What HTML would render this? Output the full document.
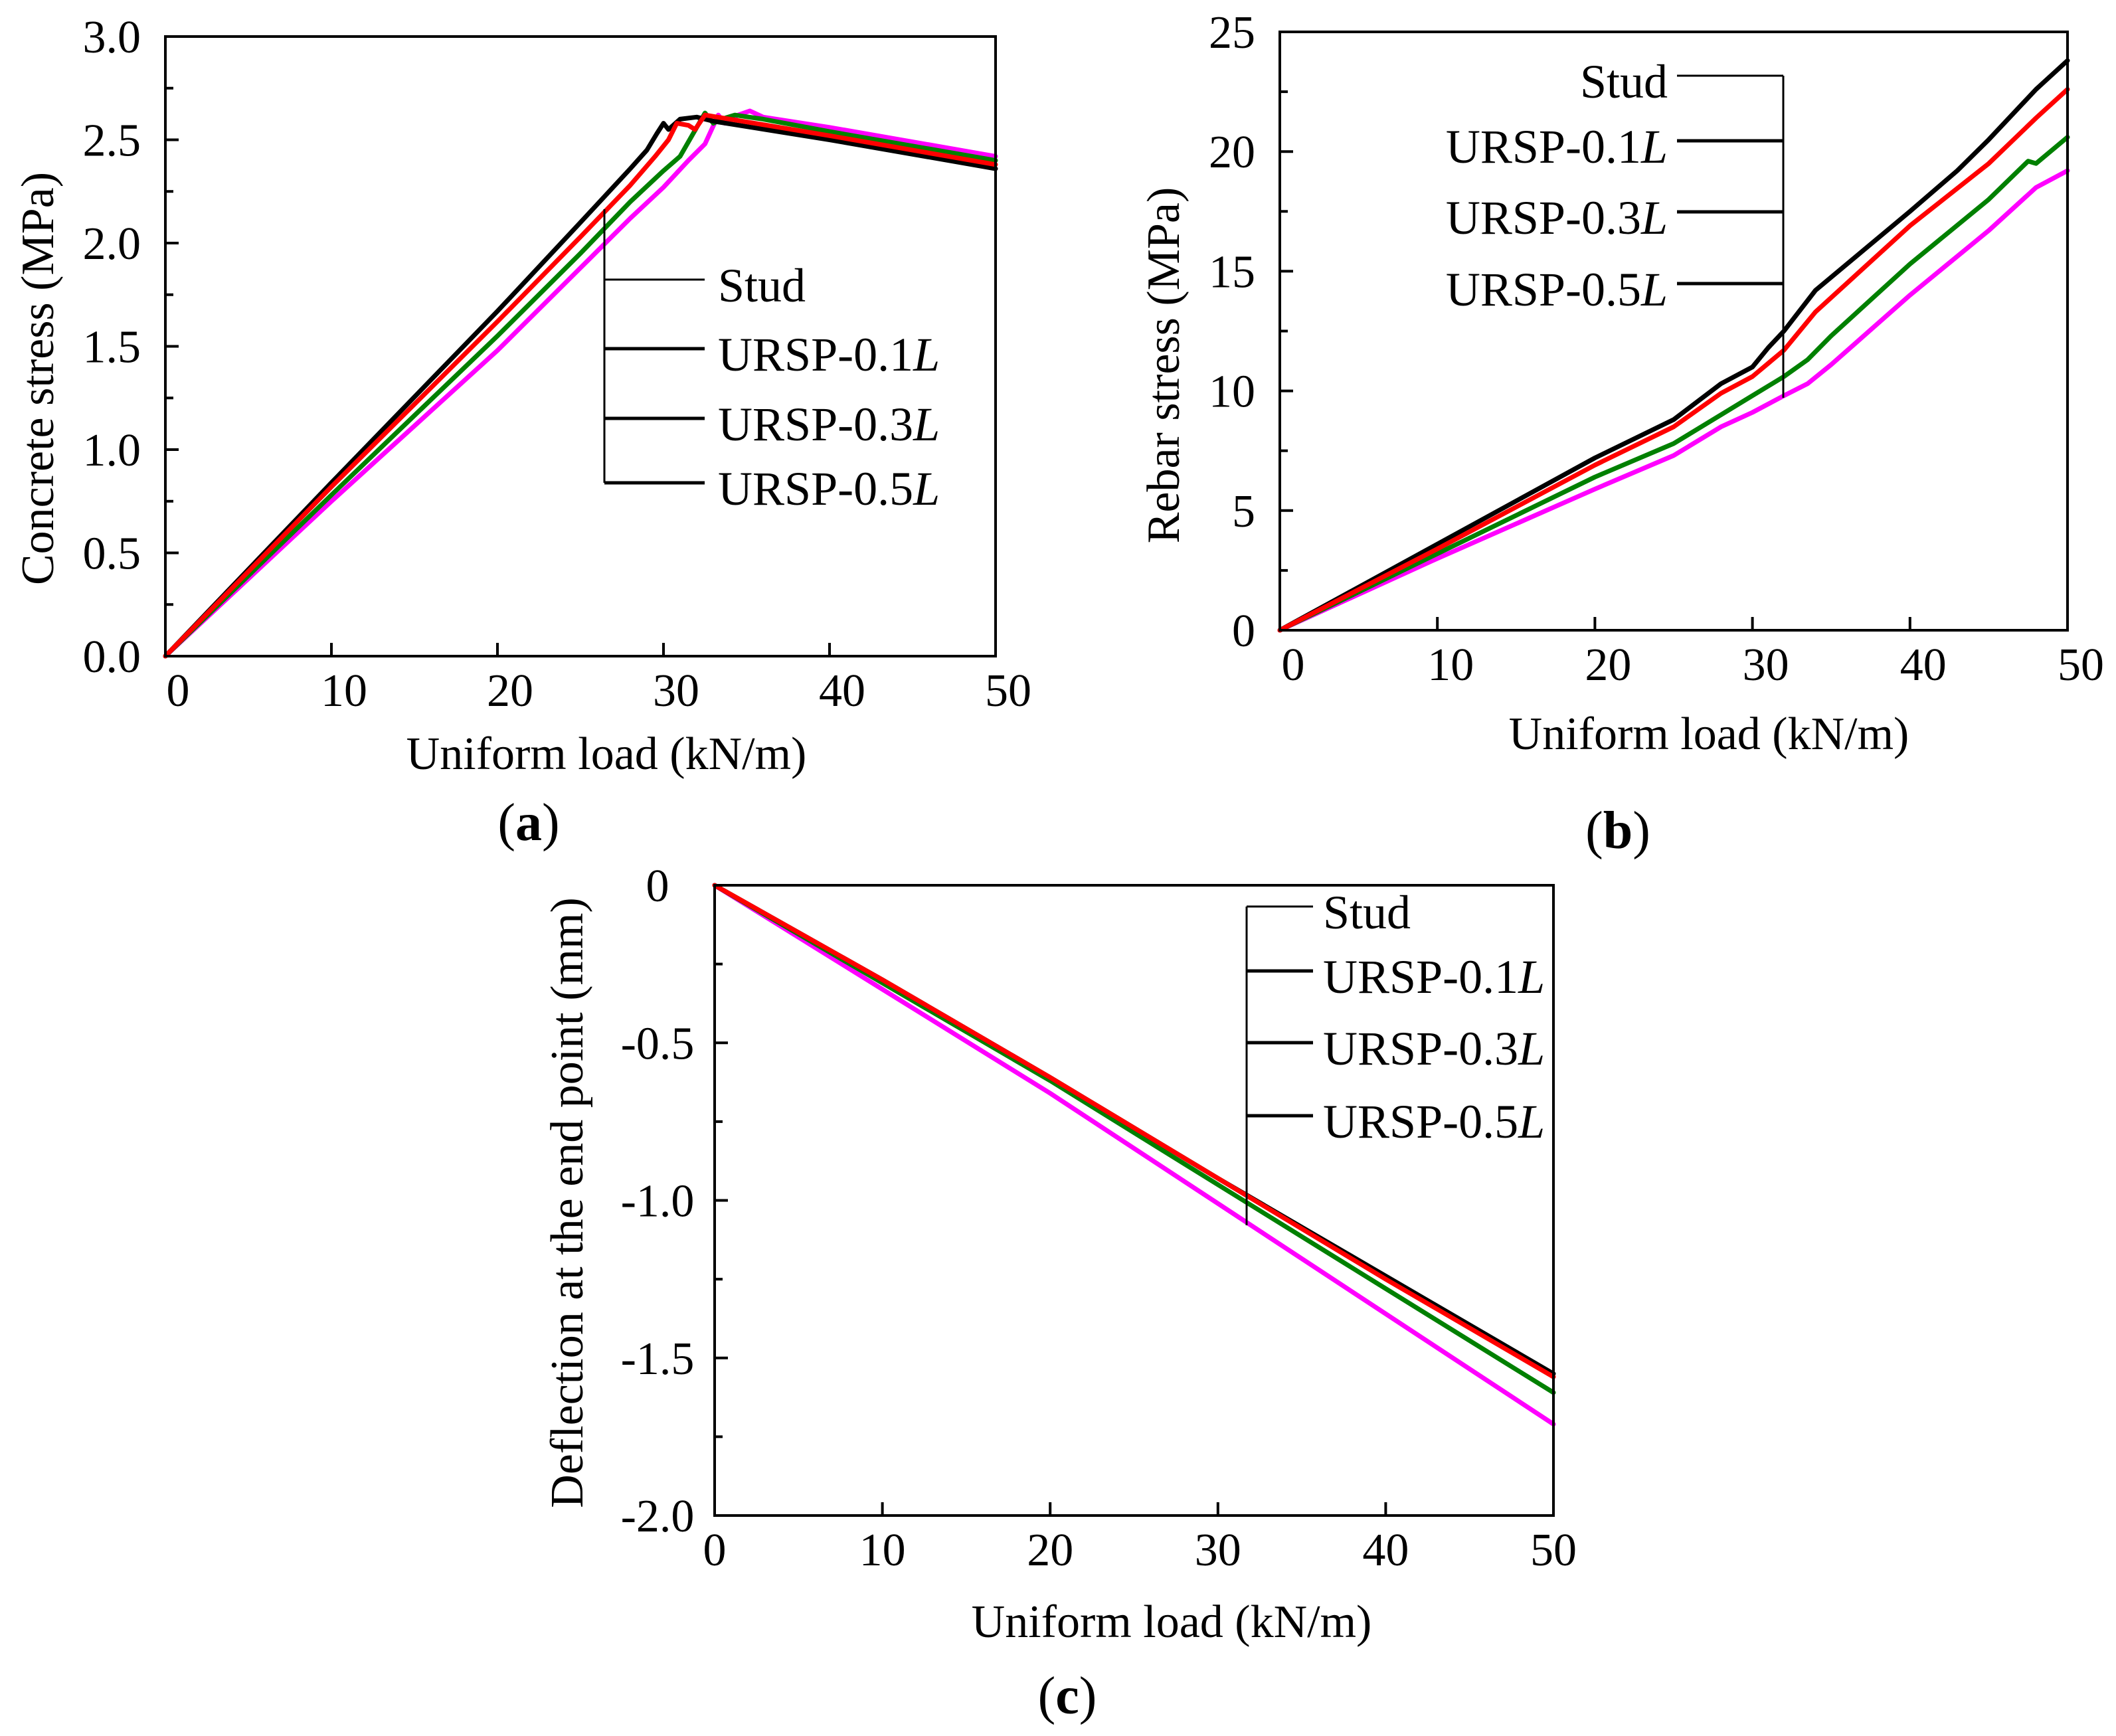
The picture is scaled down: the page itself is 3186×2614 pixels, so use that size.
<!DOCTYPE html>
<html><head><meta charset="utf-8">
<style>
html,body{margin:0;padding:0;background:#fff;}
svg{display:block;font-family:"Liberation Serif","Times New Roman",serif;}
</style></head>
<body>
<svg id="fig" width="3186" height="2614" viewBox="0 0 3186 2614" xmlns="http://www.w3.org/2000/svg"></svg>
<script>
// ---- Panel (a) data: concrete stress ----
const aX_stud=[0,10,20,25,28,29,29.6,30,30.3,31,32,33,40,50];
const aY_stud=[0,0.84,1.67,2.1,2.36,2.45,2.53,2.58,2.55,2.6,2.61,2.59,2.5,2.36];
const aX_r1=[0,10,20,25,28,29.5,30.3,30.8,31.5,31.9,32.5,34,40,50];
const aY_r1=[0,0.82,1.62,2.03,2.28,2.42,2.5,2.58,2.57,2.55,2.62,2.6,2.52,2.38];
const aX_r3=[0,10,20,25,28,30,31,32.5,33,33.5,34.3,36,40,50];
const aY_r3=[0,0.78,1.55,1.95,2.2,2.35,2.42,2.63,2.58,2.6,2.62,2.6,2.54,2.4];
const aX_r5=[0,10,20,25,28,30,31.5,32.5,33.3,33.7,34.5,35.2,36,40,50];
const aY_r5=[0,0.75,1.48,1.88,2.12,2.27,2.4,2.48,2.62,2.58,2.62,2.64,2.61,2.56,2.42];
// ---- Panel (b) data: rebar stress ----
const bX_stud=[0,10,20,25,28,30,31,32,34,40,43,45,48,50];
const bY_stud=[0,3.6,7.2,8.8,10.3,11.0,11.8,12.5,14.2,17.5,19.2,20.5,22.6,23.8];
const bX_r1=[0,10,20,25,28,30,32,34,40,45,48,50];
const bY_r1=[0,3.4,6.9,8.5,9.9,10.6,11.7,13.3,16.9,19.5,21.4,22.6];
const bX_r3=[0,10,20,25,28,30,32,33.5,35,40,45,47.5,48,50];
const bY_r3=[0,3.2,6.4,7.8,9.0,9.8,10.6,11.3,12.3,15.3,18.0,19.6,19.5,20.6];
const bX_r5=[0,10,20,25,28,30,32,33.5,35,40,45,48,50];
const bY_r5=[0,3.0,5.9,7.3,8.5,9.1,9.8,10.3,11.1,14.0,16.7,18.5,19.2];
// ---- Panel (c) data: deflection ----
const cX=[0,10,20,30,40,50];
const cY_stud=[0,-0.30,-0.61,-0.93,-1.24,-1.55];
const cY_r1=[0,-0.30,-0.61,-0.93,-1.25,-1.56];
const cY_r3=[0,-0.31,-0.62,-0.95,-1.28,-1.61];
const cY_r5=[0,-0.33,-0.66,-1.01,-1.36,-1.71];
// ticks
const xTicks=[0,10,20,30,40,50];
const aTicks=[0,0.5,1,1.5,2,2.5,3];
const aTickLabels=["0.0","0.5","1.0","1.5","2.0","2.5","3.0"];
const bTicks=[0,5,10,15,20,25];
const bTickLabels=["0","5","10","15","20","25"];
const cTicks=[0,-0.5,-1,-1.5,-2];
const cTickLabels=["0","-0.5","-1.0","-1.5","-2.0"];
const legendNames=["Stud","URSP-0.1","URSP-0.3","URSP-0.5"];

const NS="http://www.w3.org/2000/svg";
const svg=document.getElementById('fig');
function el(tag,attrs,parent){const e=document.createElementNS(NS,tag);for(const k in attrs)e.setAttribute(k,attrs[k]);(parent||svg).appendChild(e);return e;}

function panel(cfg){
  const g=el('g',{});
  
  
  const L=cfg.L,R=cfg.R,T=cfg.T,B=cfg.B;
  const sx=v=>L+(v-0)/(50-0)*(R-L);
  const sy=v=>B-(v-cfg.ymin)/(cfg.ymax-cfg.ymin)*(B-T);
  cfg.series.forEach(s=>{
    const pts=s.x.map((xv,i)=>sx(xv).toFixed(1)+','+sy(s.y[i]).toFixed(1)).join(' ');
    const p=el('polyline',{points:pts,fill:'none',stroke:s.color,'stroke-width':7,'stroke-linejoin':'round','stroke-linecap':'round'},g);
    
    
  });
  const fr=el('rect',{x:L,y:T,width:R-L,height:B-T,fill:'none',stroke:'#000','stroke-width':4},g);
  
  
  xTicks.forEach(v=>{
    if(v>0&&v<50) el('line',{x1:sx(v),x2:sx(v),y1:B,y2:B-20,stroke:'#000','stroke-width':4},g);
    const t=el('text',{x:sx(v)+cfg.xoff,y:B+75,'font-size':70,'text-anchor':'middle'},g);
    t.textContent=String(v);
    
    
  });
  cfg.yticks.forEach((v,i)=>{
    const y=sy(v);
    if(y>T+2&&y<B-2) el('line',{x1:L,x2:L+20,y1:y,y2:y,stroke:'#000','stroke-width':4},g);
    if(i<cfg.yticks.length-1){
      const m=sy((v+cfg.yticks[i+1])/2);
      el('line',{x1:L,x2:L+12,y1:m,y2:m,stroke:'#000','stroke-width':4},g);
    }
    const t=el('text',{x:cfg.ylx,y:y+24,'font-size':70,'text-anchor':cfg.ylanchor},g);
    t.textContent=cfg.ylabels[i];
    
    
  });
  const xt=el('text',{x:cfg.xtx,y:cfg.xty,'font-size':70,'text-anchor':'middle'},g);
  xt.textContent='Uniform load (kN/m)';
  
  
  const yt=el('text',{x:0,y:0,'font-size':70,'text-anchor':'middle',transform:`translate(${cfg.ytx},${cfg.yty}) rotate(-90)`},g);
  yt.textContent=cfg.ytitle;
  
  
  const cap=el('text',{x:cfg.capx,y:cfg.capy,'font-size':80,'text-anchor':'middle'},g);
  cap.innerHTML='(<tspan font-weight="bold">'+cfg.cap+'</tspan>)';
  
  
  const lg=el('g',{},g);
  
  
  const lgc=cfg.legend;
  el('line',{x1:lgc.vx,x2:lgc.vx,y1:lgc.vy1,y2:lgc.vy2,stroke:'#000','stroke-width':3},lg);
  lgc.ys.forEach((y,i)=>{
    el('line',{x1:lgc.hx1,x2:lgc.hx2,y1:y,y2:y,stroke:'#000','stroke-width':i==0?3:5},lg);
    const t=el('text',{x:lgc.tx,y:y+33,'font-size':72,'text-anchor':lgc.anchor},lg);
    t.innerHTML=legendNames[i]+(i>0?'<tspan font-style="italic">L</tspan>':'');
    
    
  });
}

panel({name:'panel-a',L:249,R:1499,T:55,B:988,ymin:0,ymax:3,yticks:aTicks,ylabels:aTickLabels,
  ylx:212,ylanchor:'end',xoff:19,xtx:913,xty:1158,ytx:80,yty:570,ytitle:'Concrete stress (MPa)',
  capx:796,capy:1265,cap:'a',
  legend:{vx:910,vy1:315,vy2:727,hx1:910,hx2:1061,ys:[421,525,630,727],tx:1081,anchor:'start'},
  series:[{id:'series-ursp-0.5L',x:aX_r5,y:aY_r5,color:'#ff00ff'},{id:'series-ursp-0.3L',x:aX_r3,y:aY_r3,color:'#008000'},{id:'series-stud',x:aX_stud,y:aY_stud,color:'#000'},{id:'series-ursp-0.1L',x:aX_r1,y:aY_r1,color:'#ff0000'}]});

panel({name:'panel-b',L:1927,R:3113,T:48,B:949,ymin:0,ymax:25,yticks:bTicks,ylabels:bTickLabels,
  ylx:1890,ylanchor:'end',xoff:20,xtx:2573,xty:1128,ytx:1775,yty:550,ytitle:'Rebar stress (MPa)',
  capx:2436,capy:1277,cap:'b',
  legend:{vx:2685,vy1:114,vy2:599,hx1:2525,hx2:2685,ys:[114,212,319,427],tx:2511,anchor:'end'},
  series:[{id:'series-ursp-0.5L',x:bX_r5,y:bY_r5,color:'#ff00ff'},{id:'series-ursp-0.3L',x:bX_r3,y:bY_r3,color:'#008000'},{id:'series-stud',x:bX_stud,y:bY_stud,color:'#000'},{id:'series-ursp-0.1L',x:bX_r1,y:bY_r1,color:'#ff0000'}]});

panel({name:'panel-c',L:1076,R:2339,T:1333,B:2282,ymin:-2,ymax:0,yticks:cTicks,ylabels:cTickLabels,
  ylx:990,ylanchor:'middle',xoff:0,xtx:1764,xty:2465,ytx:877,yty:1811,ytitle:'Deflection at the end point (mm)',
  capx:1607,capy:2580,cap:'c',
  legend:{vx:1877,vy1:1365,vy2:1845,hx1:1877,hx2:1977,ys:[1365,1462,1570,1680],tx:1992,anchor:'start'},
  series:[{id:'series-ursp-0.5L',x:cX,y:cY_r5,color:'#ff00ff'},{id:'series-ursp-0.3L',x:cX,y:cY_r3,color:'#008000'},{id:'series-stud',x:cX,y:cY_stud,color:'#000'},{id:'series-ursp-0.1L',x:cX,y:cY_r1,color:'#ff0000'}]});
</script>
</body></html>
